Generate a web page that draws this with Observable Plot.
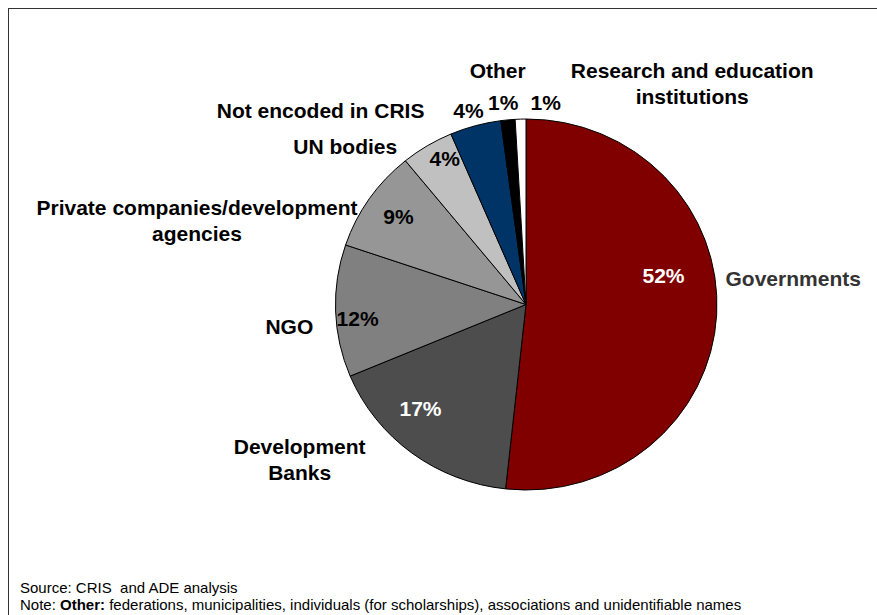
<!DOCTYPE html>
<html><head><meta charset="utf-8">
<script src="https://cdn.jsdelivr.net/npm/d3@7"></script>
<script src="https://cdn.jsdelivr.net/npm/@observablehq/plot@0.6"></script>
<style>
html,body{margin:0;padding:0;background:#fff;overflow:hidden;width:877px;height:615px;}
#frame{position:absolute;left:8px;top:8px;width:900px;height:700px;border:1px solid #333;box-sizing:border-box;}
#chart{position:absolute;left:0;top:0;}
#footer{position:absolute;left:20px;top:579px;font-family:"Liberation Sans",Arial,sans-serif;font-size:15px;line-height:17px;color:#000;white-space:nowrap;}
</style></head><body>
<div id="frame"></div>
<div id="chart"></div>
<div id="footer"><div>Source: CRIS&nbsp; and ADE analysis</div><div>Note: <b>Other:</b> federations, municipalities, individuals (for scholarships), associations and unidentifiable names</div></div>
<script>
// ---- data ----
const categories = ["Governments", "Development Banks", "NGO", "Private companies/development agencies", "UN bodies", "Not encoded in CRIS", "Other", "Research and education institutions"];
const nameLabels = ["Governments", "Development\nBanks", "NGO", "Private companies/development\nagencies", "UN bodies", "Not encoded in CRIS", "Other", "Research and education\ninstitutions"];
const values = [51.7, 17.0, 11.5, 8.9, 4.45, 4.35, 1.2, 0.9];
const colors = ["#800000", "#4d4d4d", "#808080", "#969696", "#c0c0c0", "#003366", "#000000", "#ffffff"];

// ---- layout (label placement, polar: angle in degrees clockwise from top, radius factor) ----
const pctLayout = [[77.7, 0.736], [224.7, 0.791], [265.1, 0.89], [305, 0.82], [331.3, 0.894], [343.7, 1.087], [353.6, 1.093], [5.3, 1.09]];
const pctWhite = [true, true, false, false, false, false, false, false];
const nameLayout = [[82.4, 1.054], [235.2, 1.45], [264.8, 1.25], [284.9, 1.79], [312, 1.28], [314.3, 1.51], [353.2, 1.28], [36, 1.48]];

const rows = categories.map((c, i) => ({category: c, value: values[i]}));
const color = d3.scaleOrdinal().domain(categories).range(colors);
const arcs = d3.pie().sort(null).value(d => d.value).startAngle(0).endAngle(2 * Math.PI)(rows);

const polar = ([deg, k]) => {
  const a = deg * Math.PI / 180;
  return {x: k * Math.sin(a), y: k * Math.cos(a)};
};
const pctData = rows.map((d, i) => ({...polar(pctLayout[i]), label: Math.round(d.value) + "%", white: pctWhite[i]}));
const nameData = rows.map((d, i) => ({...polar(nameLayout[i]), label: nameLabels[i], i}));

function pieMark(index, scales) {
  const {x, y} = scales;
  const cx = x(0), cy = y(0);
  const rx = x(1) - cx, ry = y(-1) - cy;
  const g = d3.create("svg:g").attr("transform", `translate(${cx},${cy}) scale(${rx},${ry})`);
  const arc = d3.arc().innerRadius(0).outerRadius(1);
  g.selectAll("path").data(arcs).join("path")
    .attr("d", arc)
    .attr("fill", d => color(d.data.category))
    .attr("stroke", "#000")
    .attr("stroke-width", 1)
    .attr("stroke-linejoin", "round")
    .attr("vector-effect", "non-scaling-stroke");
  return g.node();
}

const font = {fontFamily: "Liberation Sans, Arial, sans-serif", fontWeight: "bold", fontSize: 21};

const chart = Plot.plot({
  width: 877,
  height: 575,
  margin: 0,
  style: {background: "transparent", overflow: "visible"},
  x: {domain: [-1, 1], range: [335.5, 716.5], axis: null},
  y: {domain: [-1, 1], range: [490, 119], axis: null},
  marks: [
    pieMark,
    Plot.text(pctData.filter(d => d.white), {x: "x", y: "y", text: "label", fill: "white", ...font}),
    Plot.text(pctData.filter(d => !d.white), {x: "x", y: "y", text: "label", fill: "black", ...font}),
    Plot.text(nameData.filter(d => d.i === 0), {x: "x", y: "y", text: "label", fill: "#333", textAnchor: "start", ...font}),
    Plot.text(nameData.filter(d => d.i !== 0), {x: "x", y: "y", text: "label", fill: "black", lineHeight: 1.24, ...font})
  ]
});
document.getElementById("chart").appendChild(chart);
</script>
</body></html>
